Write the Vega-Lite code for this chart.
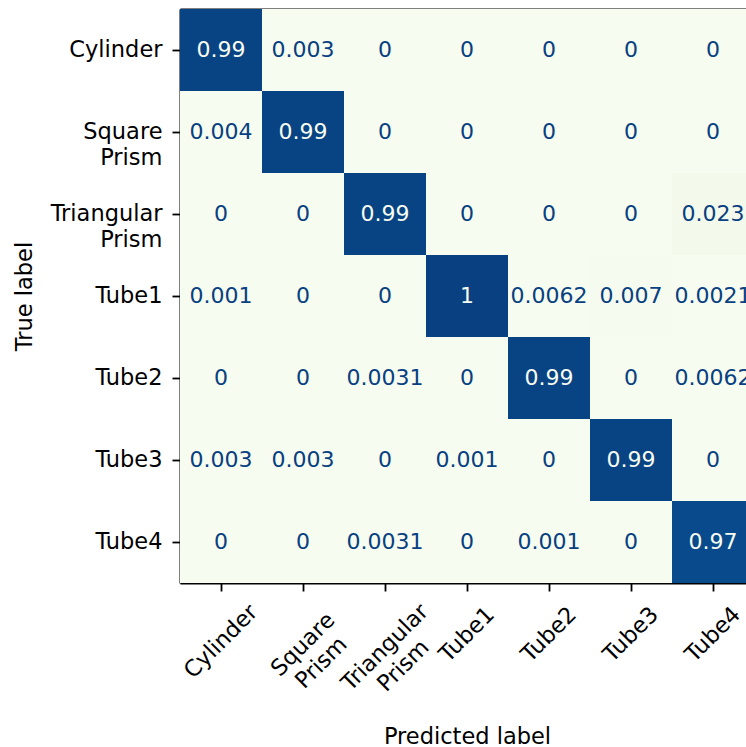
{
  "$schema": "https://vega.github.io/schema/vega-lite/v6.json",
  "autosize": {"type": "none"},
  "padding": {"left": 180, "top": 9, "right": 0, "bottom": 164},
  "width": 574,
  "height": 574,
  "background": "white",
  "config": {
    "view": {"stroke": null},
    "font": "DejaVu Sans",
    "axis": {
      "labelFont": "DejaVu Sans",
      "titleFont": "DejaVu Sans",
      "labelFontSize": 22.5,
      "titleFontSize": 22.5,
      "titleFontWeight": "normal",
      "labelColor": "black",
      "titleColor": "black",
      "domainColor": "black",
      "domainWidth": 2,
      "tickColor": "black",
      "tickWidth": 1.8,
      "tickSize": 8,
      "labelPadding": 8,
      "labelLineHeight": 26,
      "labelOverlap": false,
      "labelBound": false,
      "grid": false,
      "zindex": 1
    }
  },
  "data": {
    "values": [
      {"true": "Cylinder", "pred": "Cylinder", "v": 0.99},
      {"true": "Cylinder", "pred": "Square Prism", "v": 0.003},
      {"true": "Cylinder", "pred": "Triangular Prism", "v": 0},
      {"true": "Cylinder", "pred": "Tube1", "v": 0},
      {"true": "Cylinder", "pred": "Tube2", "v": 0},
      {"true": "Cylinder", "pred": "Tube3", "v": 0},
      {"true": "Cylinder", "pred": "Tube4", "v": 0},
      {"true": "Square Prism", "pred": "Cylinder", "v": 0.004},
      {"true": "Square Prism", "pred": "Square Prism", "v": 0.99},
      {"true": "Square Prism", "pred": "Triangular Prism", "v": 0},
      {"true": "Square Prism", "pred": "Tube1", "v": 0},
      {"true": "Square Prism", "pred": "Tube2", "v": 0},
      {"true": "Square Prism", "pred": "Tube3", "v": 0},
      {"true": "Square Prism", "pred": "Tube4", "v": 0},
      {"true": "Triangular Prism", "pred": "Cylinder", "v": 0},
      {"true": "Triangular Prism", "pred": "Square Prism", "v": 0},
      {"true": "Triangular Prism", "pred": "Triangular Prism", "v": 0.99},
      {"true": "Triangular Prism", "pred": "Tube1", "v": 0},
      {"true": "Triangular Prism", "pred": "Tube2", "v": 0},
      {"true": "Triangular Prism", "pred": "Tube3", "v": 0},
      {"true": "Triangular Prism", "pred": "Tube4", "v": 0.023},
      {"true": "Tube1", "pred": "Cylinder", "v": 0.001},
      {"true": "Tube1", "pred": "Square Prism", "v": 0},
      {"true": "Tube1", "pred": "Triangular Prism", "v": 0},
      {"true": "Tube1", "pred": "Tube1", "v": 1},
      {"true": "Tube1", "pred": "Tube2", "v": 0.0062},
      {"true": "Tube1", "pred": "Tube3", "v": 0.007},
      {"true": "Tube1", "pred": "Tube4", "v": 0.0021},
      {"true": "Tube2", "pred": "Cylinder", "v": 0},
      {"true": "Tube2", "pred": "Square Prism", "v": 0},
      {"true": "Tube2", "pred": "Triangular Prism", "v": 0.0031},
      {"true": "Tube2", "pred": "Tube1", "v": 0},
      {"true": "Tube2", "pred": "Tube2", "v": 0.99},
      {"true": "Tube2", "pred": "Tube3", "v": 0},
      {"true": "Tube2", "pred": "Tube4", "v": 0.0062},
      {"true": "Tube3", "pred": "Cylinder", "v": 0.003},
      {"true": "Tube3", "pred": "Square Prism", "v": 0.003},
      {"true": "Tube3", "pred": "Triangular Prism", "v": 0},
      {"true": "Tube3", "pred": "Tube1", "v": 0.001},
      {"true": "Tube3", "pred": "Tube2", "v": 0},
      {"true": "Tube3", "pred": "Tube3", "v": 0.99},
      {"true": "Tube3", "pred": "Tube4", "v": 0},
      {"true": "Tube4", "pred": "Cylinder", "v": 0},
      {"true": "Tube4", "pred": "Square Prism", "v": 0},
      {"true": "Tube4", "pred": "Triangular Prism", "v": 0.0031},
      {"true": "Tube4", "pred": "Tube1", "v": 0},
      {"true": "Tube4", "pred": "Tube2", "v": 0.001},
      {"true": "Tube4", "pred": "Tube3", "v": 0},
      {"true": "Tube4", "pred": "Tube4", "v": 0.97}
    ]
  },
  "layer": [
    {
      "mark": {"type": "rect"},
      "encoding": {
        "x": {
          "field": "pred", "type": "nominal",
          "sort": ["Cylinder", "Square Prism", "Triangular Prism", "Tube1", "Tube2", "Tube3", "Tube4"],
          "scale": {"paddingInner": 0, "paddingOuter": 0},
          "axis": {
            "orient": "bottom",
            "title": "Predicted label",
            "labelAngle": -45,
            "labelAlign": "center",
            "labelBaseline": "middle",
            "labelPadding": {"expr": "datum.value == 'Cylinder' ? 50 : datum.value == 'Square Prism' ? 53 : datum.value == 'Triangular Prism' ? 56 : 43"},
            "labelExpr": "split(datum.label, ' ')",
            "titlePadding": 12
          }
        },
        "y": {
          "field": "true", "type": "nominal",
          "sort": ["Cylinder", "Square Prism", "Triangular Prism", "Tube1", "Tube2", "Tube3", "Tube4"],
          "scale": {"paddingInner": 0, "paddingOuter": 0},
          "axis": {
            "orient": "left",
            "title": "True label",
            "labelAlign": "right",
            "labelBaseline": "middle",
            "labelPadding": 10,
            "labelExpr": "split(datum.label, ' ')",
            "titlePadding": 14
          }
        },
        "color": {
          "field": "v", "type": "quantitative",
          "scale": {
            "domain": [0, 0.125, 0.25, 0.375, 0.5, 0.625, 0.75, 0.875, 1],
            "range": ["#f7fcf0", "#e0f3db", "#ccebc5", "#a8ddb5", "#7bccc4", "#4eb3d3", "#2b8cbe", "#0868ac", "#084081"],
            "interpolate": "rgb"
          },
          "legend": null
        }
      }
    },
    {
      "mark": {"type": "text", "font": "DejaVu Sans", "fontSize": 22, "baseline": "middle", "align": "center"},
      "encoding": {
        "x": {
          "field": "pred", "type": "nominal",
          "sort": ["Cylinder", "Square Prism", "Triangular Prism", "Tube1", "Tube2", "Tube3", "Tube4"],
          "axis": {"orient": "top", "title": null, "labels": false, "ticks": false, "domain": true}
        },
        "y": {
          "field": "true", "type": "nominal",
          "sort": ["Cylinder", "Square Prism", "Triangular Prism", "Tube1", "Tube2", "Tube3", "Tube4"],
          "axis": {"orient": "right", "title": null, "labels": false, "ticks": false, "domain": true}
        },
        "text": {"field": "v", "type": "quantitative", "format": ".2~g"},
        "color": {
          "condition": {"test": "datum.v >= 0.5", "value": "#f7fcf0"},
          "value": "#084081"
        }
      }
    }
  ],
  "resolve": {"axis": {"x": "independent", "y": "independent"}}
}
